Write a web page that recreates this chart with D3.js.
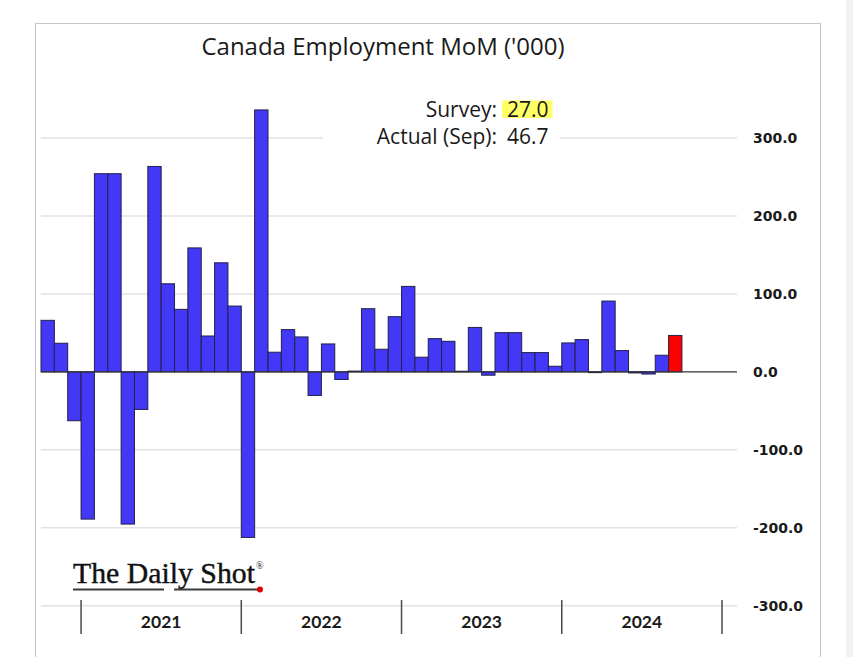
<!DOCTYPE html>
<html>
<head>
<meta charset="utf-8">
<script src="https://cdn.jsdelivr.net/npm/d3@7"></script>
<style>
  html, body { margin: 0; padding: 0; background: #ffffff; }
  svg { display: block; }
</style>
</head>
<body>
<svg id="chart" width="853" height="657"></svg>
<script>
// ---- data ----
const months = [
  "2020-10","2020-11","2020-12",
  "2021-01","2021-02","2021-03","2021-04","2021-05","2021-06","2021-07","2021-08","2021-09","2021-10","2021-11","2021-12",
  "2022-01","2022-02","2022-03","2022-04","2022-05","2022-06","2022-07","2022-08","2022-09","2022-10","2022-11","2022-12",
  "2023-01","2023-02","2023-03","2023-04","2023-05","2023-06","2023-07","2023-08","2023-09","2023-10","2023-11","2023-12",
  "2024-01","2024-02","2024-03","2024-04","2024-05","2024-06","2024-07","2024-08","2024-09","2024-10","2024-11","2024-12"
];
const employmentChange = [
  66.1, 36.7, -62.7,
  -188.9, 254.2, 254.2, -195.3, -48.2, 263.5, 113.0, 80.2, 159.0, 46.0, 139.9, 84.4,
  -212.4, 336.0, 25.2, 54.2, 44.8, -30.3, 35.8, -9.8, 1.0, 81.0, 29.0, 70.8,
  109.6, 18.8, 42.6, 39.2, 0.8, 57.0, -4.3, 50.3, 50.3, 24.7, 24.7, 7.2,
  37.1, 41.4, -1.0, 90.8, 27.3, -1.4, -2.8, 21.3, 46.7
];
const latestMonth = "2024-09";
const yTicks = [-300, -200, -100, 0, 100, 200, 300];
const years = ["2021", "2022", "2023", "2024"];
const titleText = "Canada Employment MoM ('000)";
const surveyLabel = "Survey:";
const surveyValue = "27.0";
const actualLabel = "Actual (Sep):";
const actualValue = "46.7";

// ---- setup ----
const svg = d3.select("#chart");
const W = 853, H = 657;

svg.append("rect").attr("x", 0).attr("y", 0).attr("width", W).attr("height", H).attr("fill", "#ffffff");
svg.append("rect").attr("x", 846).attr("y", 0).attr("width", 7).attr("height", H).attr("fill", "#f1f1f1");
// frame
svg.append("rect").attr("x", 35.5).attr("y", 23.5).attr("width", 785).attr("height", 660)
  .attr("fill", "#ffffff").attr("stroke", "#c6c6c6").attr("stroke-width", 1);

const x = d3.scaleBand().domain(months).range([41, 722]).padding(0);
const y = d3.scaleLinear().domain([-300, 300]).range([605.7, 138]);

const data = employmentChange.map((v, i) => ({ month: months[i], value: v }));

// gridlines
svg.append("g").selectAll("line").data(yTicks.filter(t => t !== 0)).join("line")
  .attr("x1", 41).attr("x2", 737)
  .attr("y1", d => y(d)).attr("y2", d => y(d))
  .attr("stroke", "#e2e2e2").attr("stroke-width", 1.5);

// y axis labels (right side)
const yAxis = d3.axisRight(y).tickValues(yTicks).tickSize(0).tickPadding(0)
  .tickFormat(d => d.toFixed(1));
const gy = svg.append("g").attr("transform", "translate(753,0)").call(yAxis);
gy.select(".domain").remove();
gy.selectAll("text")
  .attr("font-family", "DejaVu Sans, Verdana, sans-serif")
  .attr("font-weight", "bold")
  .attr("font-size", 14)
  .attr("fill", "#1a1a1a")
  .attr("dy", "0.35em");

// bars
svg.append("g").selectAll("rect").data(data).join("rect")
  .attr("x", d => x(d.month))
  .attr("width", x.bandwidth())
  .attr("y", d => y(Math.max(0, d.value)))
  .attr("height", d => Math.abs(y(d.value) - y(0)))
  .attr("fill", d => d.month === latestMonth ? "#ff0000" : "#4238f5")
  .attr("stroke", "#23214a")
  .attr("stroke-width", 1);

// zero line
svg.append("line").attr("x1", 41).attr("x2", 737).attr("y1", y(0)).attr("y2", y(0))
  .attr("stroke", "#333333").attr("stroke-width", 1.2);

// year separators & labels
const yearStarts = years.map(yr => x(yr + "-01"));
const sepXs = yearStarts.concat([x("2024-12") + x.bandwidth()]);
svg.append("g").selectAll("line").data(sepXs).join("line")
  .attr("x1", d => d).attr("x2", d => d)
  .attr("y1", 600).attr("y2", 634)
  .attr("stroke", "#4a4a4a").attr("stroke-width", 1.5);
svg.append("g").selectAll("text").data(years).join("text")
  .attr("x", (d, i) => (sepXs[i] + sepXs[i + 1]) / 2)
  .attr("y", 628)
  .attr("text-anchor", "middle")
  .attr("font-family", "Lato, 'Open Sans', sans-serif")
  .attr("font-weight", "bold")
  .attr("font-size", 17.5)
  .attr("fill", "#1a1a1a")
  .text(d => d);

// title
svg.append("text").attr("x", 383).attr("y", 55).attr("text-anchor", "middle")
  .attr("font-family", "'Open Sans', Lato, sans-serif").attr("font-size", 24)
  .attr("fill", "#1a1a1a").text(titleText);

// annotation box (hides gridline behind)
svg.append("rect").attr("x", 323).attr("y", 96).attr("width", 237).attr("height", 54).attr("fill", "#ffffff");
svg.append("rect").attr("x", 502).attr("y", 100.5).attr("width", 50.5).attr("height", 17.5).attr("fill", "#ffff66");
const annoFont = "'Open Sans', Lato, sans-serif";
const annoSize = 21;
svg.append("text").attr("x", 497).attr("y", 116.5).attr("text-anchor", "end")
  .attr("font-family", annoFont).attr("font-size", annoSize).attr("fill", "#1a1a1a").text(surveyLabel);
svg.append("text").attr("x", 507).attr("y", 116.5)
  .attr("font-family", annoFont).attr("font-size", annoSize).attr("fill", "#1a1a1a").text(surveyValue);
svg.append("text").attr("x", 497).attr("y", 144).attr("text-anchor", "end")
  .attr("font-family", annoFont).attr("font-size", annoSize).attr("fill", "#1a1a1a").text(actualLabel);
svg.append("text").attr("x", 507).attr("y", 144)
  .attr("font-family", annoFont).attr("font-size", annoSize).attr("fill", "#1a1a1a").text(actualValue);

// logo
const logo = svg.append("g");
logo.append("text").attr("x", 73).attr("y", 583)
  .attr("font-family", "Liberation Serif, 'Times New Roman', serif").attr("font-size", 29)
  .attr("fill", "#111111").attr("stroke", "#111111").attr("stroke-width", 0.4)
  .attr("textLength", 182).attr("lengthAdjust", "spacingAndGlyphs")
  .text("The Daily Shot");
logo.append("text").attr("x", 256).attr("y", 569)
  .attr("font-family", "Liberation Serif, serif").attr("font-size", 10).attr("fill", "#1a1a1a").text("®");
logo.append("line").attr("x1", 73).attr("x2", 164).attr("y1", 589.5).attr("y2", 589.5)
  .attr("stroke", "#3a3a3a").attr("stroke-width", 2);
logo.append("line").attr("x1", 174).attr("x2", 258).attr("y1", 589.5).attr("y2", 589.5)
  .attr("stroke", "#3a3a3a").attr("stroke-width", 2);
logo.append("circle").attr("cx", 260).attr("cy", 589.5).attr("r", 3).attr("fill", "#e00000");
</script>
</body>
</html>
